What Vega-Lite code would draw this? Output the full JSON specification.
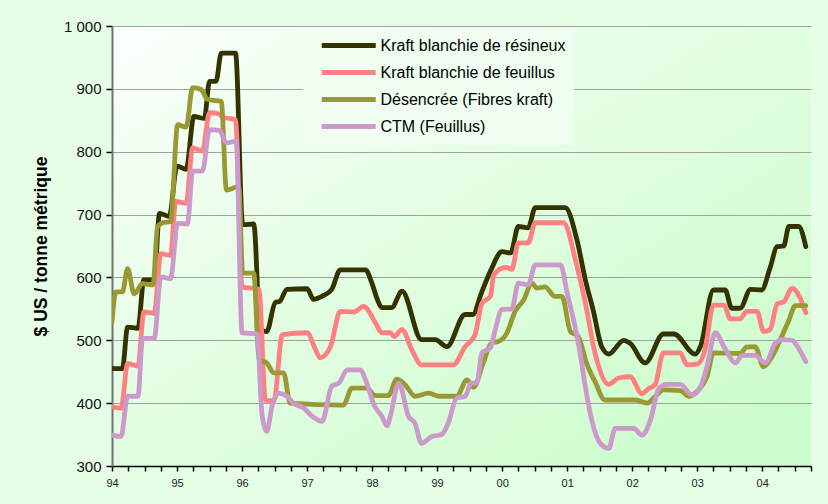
{
  "$schema": "https://vega.github.io/schema/vega-lite/v6.json",
  "width": 699,
  "height": 440,
  "autosize": {"type": "none"},
  "padding": {"left": 112, "top": 26, "right": 17, "bottom": 38},
  "background": "#e6fee6",
  "config": {
    "font": "Liberation Sans",
    "view": {"stroke": null, "fill": {"gradient": "linear", "x1": 0, "y1": 0, "x2": 1, "y2": 1, "stops": [{"offset": 0, "color": "#fbfffb"}, {"offset": 0.5, "color": "#e0fde0"}, {"offset": 1, "color": "#c8fcc8"}]}}
  },
  "datasets": {
    "prices": [
      {"s": "Kraft blanchie de résineux", "t": 1994.00, "v": 455},
      {"s": "Kraft blanchie de résineux", "t": 1994.16, "v": 455},
      {"s": "Kraft blanchie de résineux", "t": 1994.24, "v": 521},
      {"s": "Kraft blanchie de résineux", "t": 1994.40, "v": 519},
      {"s": "Kraft blanchie de résineux", "t": 1994.49, "v": 596},
      {"s": "Kraft blanchie de résineux", "t": 1994.65, "v": 596},
      {"s": "Kraft blanchie de résineux", "t": 1994.73, "v": 702},
      {"s": "Kraft blanchie de résineux", "t": 1994.88, "v": 697},
      {"s": "Kraft blanchie de résineux", "t": 1995.00, "v": 777},
      {"s": "Kraft blanchie de résineux", "t": 1995.14, "v": 772},
      {"s": "Kraft blanchie de résineux", "t": 1995.26, "v": 856},
      {"s": "Kraft blanchie de résineux", "t": 1995.42, "v": 853},
      {"s": "Kraft blanchie de résineux", "t": 1995.50, "v": 912},
      {"s": "Kraft blanchie de résineux", "t": 1995.60, "v": 912},
      {"s": "Kraft blanchie de résineux", "t": 1995.68, "v": 957},
      {"s": "Kraft blanchie de résineux", "t": 1995.90, "v": 957},
      {"s": "Kraft blanchie de résineux", "t": 1996.01, "v": 684},
      {"s": "Kraft blanchie de résineux", "t": 1996.18, "v": 685},
      {"s": "Kraft blanchie de résineux", "t": 1996.28, "v": 517},
      {"s": "Kraft blanchie de résineux", "t": 1996.38, "v": 514},
      {"s": "Kraft blanchie de résineux", "t": 1996.51, "v": 560},
      {"s": "Kraft blanchie de résineux", "t": 1996.58, "v": 562},
      {"s": "Kraft blanchie de résineux", "t": 1996.69, "v": 581},
      {"s": "Kraft blanchie de résineux", "t": 1997.00, "v": 582},
      {"s": "Kraft blanchie de résineux", "t": 1997.10, "v": 565},
      {"s": "Kraft blanchie de résineux", "t": 1997.23, "v": 570},
      {"s": "Kraft blanchie de résineux", "t": 1997.38, "v": 581},
      {"s": "Kraft blanchie de résineux", "t": 1997.51, "v": 612},
      {"s": "Kraft blanchie de résineux", "t": 1997.90, "v": 612},
      {"s": "Kraft blanchie de résineux", "t": 1998.00, "v": 590},
      {"s": "Kraft blanchie de résineux", "t": 1998.08, "v": 565},
      {"s": "Kraft blanchie de résineux", "t": 1998.15, "v": 552},
      {"s": "Kraft blanchie de résineux", "t": 1998.30, "v": 552},
      {"s": "Kraft blanchie de résineux", "t": 1998.46, "v": 578},
      {"s": "Kraft blanchie de résineux", "t": 1998.76, "v": 501},
      {"s": "Kraft blanchie de résineux", "t": 1998.97, "v": 501},
      {"s": "Kraft blanchie de résineux", "t": 1999.15, "v": 490},
      {"s": "Kraft blanchie de résineux", "t": 1999.43, "v": 541},
      {"s": "Kraft blanchie de résineux", "t": 1999.55, "v": 541},
      {"s": "Kraft blanchie de résineux", "t": 1999.68, "v": 575},
      {"s": "Kraft blanchie de résineux", "t": 1999.82, "v": 610},
      {"s": "Kraft blanchie de résineux", "t": 2000.00, "v": 641},
      {"s": "Kraft blanchie de résineux", "t": 2000.13, "v": 639},
      {"s": "Kraft blanchie de résineux", "t": 2000.25, "v": 681},
      {"s": "Kraft blanchie de résineux", "t": 2000.40, "v": 679},
      {"s": "Kraft blanchie de résineux", "t": 2000.51, "v": 711},
      {"s": "Kraft blanchie de résineux", "t": 2000.97, "v": 711},
      {"s": "Kraft blanchie de résineux", "t": 2001.15, "v": 660},
      {"s": "Kraft blanchie de résineux", "t": 2001.28, "v": 596},
      {"s": "Kraft blanchie de résineux", "t": 2001.40, "v": 548},
      {"s": "Kraft blanchie de résineux", "t": 2001.53, "v": 490},
      {"s": "Kraft blanchie de résineux", "t": 2001.64, "v": 478},
      {"s": "Kraft blanchie de résineux", "t": 2001.87, "v": 500},
      {"s": "Kraft blanchie de résineux", "t": 2001.97, "v": 495},
      {"s": "Kraft blanchie de résineux", "t": 2002.20, "v": 464},
      {"s": "Kraft blanchie de résineux", "t": 2002.48, "v": 510},
      {"s": "Kraft blanchie de résineux", "t": 2002.64, "v": 510},
      {"s": "Kraft blanchie de résineux", "t": 2002.97, "v": 478},
      {"s": "Kraft blanchie de résineux", "t": 2003.05, "v": 490},
      {"s": "Kraft blanchie de résineux", "t": 2003.25, "v": 580},
      {"s": "Kraft blanchie de résineux", "t": 2003.43, "v": 580},
      {"s": "Kraft blanchie de résineux", "t": 2003.53, "v": 551},
      {"s": "Kraft blanchie de résineux", "t": 2003.66, "v": 551},
      {"s": "Kraft blanchie de résineux", "t": 2003.82, "v": 581},
      {"s": "Kraft blanchie de résineux", "t": 2003.99, "v": 580},
      {"s": "Kraft blanchie de résineux", "t": 2004.12, "v": 615},
      {"s": "Kraft blanchie de résineux", "t": 2004.23, "v": 649},
      {"s": "Kraft blanchie de résineux", "t": 2004.33, "v": 650},
      {"s": "Kraft blanchie de résineux", "t": 2004.41, "v": 681},
      {"s": "Kraft blanchie de résineux", "t": 2004.56, "v": 681},
      {"s": "Kraft blanchie de résineux", "t": 2004.67, "v": 649},

      {"s": "Kraft blanchie de feuillus", "t": 1994.00, "v": 394},
      {"s": "Kraft blanchie de feuillus", "t": 1994.14, "v": 392},
      {"s": "Kraft blanchie de feuillus", "t": 1994.24, "v": 463},
      {"s": "Kraft blanchie de feuillus", "t": 1994.40, "v": 459},
      {"s": "Kraft blanchie de feuillus", "t": 1994.49, "v": 545},
      {"s": "Kraft blanchie de feuillus", "t": 1994.65, "v": 543},
      {"s": "Kraft blanchie de feuillus", "t": 1994.75, "v": 638},
      {"s": "Kraft blanchie de feuillus", "t": 1994.90, "v": 635},
      {"s": "Kraft blanchie de feuillus", "t": 1994.98, "v": 721},
      {"s": "Kraft blanchie de feuillus", "t": 1995.14, "v": 718},
      {"s": "Kraft blanchie de feuillus", "t": 1995.24, "v": 806},
      {"s": "Kraft blanchie de feuillus", "t": 1995.39, "v": 801},
      {"s": "Kraft blanchie de feuillus", "t": 1995.50, "v": 862},
      {"s": "Kraft blanchie de feuillus", "t": 1995.65, "v": 860},
      {"s": "Kraft blanchie de feuillus", "t": 1995.70, "v": 855},
      {"s": "Kraft blanchie de feuillus", "t": 1995.90, "v": 851},
      {"s": "Kraft blanchie de feuillus", "t": 1996.00, "v": 585},
      {"s": "Kraft blanchie de feuillus", "t": 1996.26, "v": 581},
      {"s": "Kraft blanchie de feuillus", "t": 1996.36, "v": 404},
      {"s": "Kraft blanchie de feuillus", "t": 1996.49, "v": 404},
      {"s": "Kraft blanchie de feuillus", "t": 1996.62, "v": 509},
      {"s": "Kraft blanchie de feuillus", "t": 1997.00, "v": 512},
      {"s": "Kraft blanchie de feuillus", "t": 1997.13, "v": 485},
      {"s": "Kraft blanchie de feuillus", "t": 1997.20, "v": 472},
      {"s": "Kraft blanchie de feuillus", "t": 1997.36, "v": 490},
      {"s": "Kraft blanchie de feuillus", "t": 1997.51, "v": 546},
      {"s": "Kraft blanchie de feuillus", "t": 1997.72, "v": 545},
      {"s": "Kraft blanchie de feuillus", "t": 1997.87, "v": 554},
      {"s": "Kraft blanchie de feuillus", "t": 1998.05, "v": 528},
      {"s": "Kraft blanchie de feuillus", "t": 1998.15, "v": 512},
      {"s": "Kraft blanchie de feuillus", "t": 1998.28, "v": 512},
      {"s": "Kraft blanchie de feuillus", "t": 1998.34, "v": 506},
      {"s": "Kraft blanchie de feuillus", "t": 1998.46, "v": 517},
      {"s": "Kraft blanchie de feuillus", "t": 1998.61, "v": 485},
      {"s": "Kraft blanchie de feuillus", "t": 1998.76, "v": 461},
      {"s": "Kraft blanchie de feuillus", "t": 1999.25, "v": 461},
      {"s": "Kraft blanchie de feuillus", "t": 1999.43, "v": 490},
      {"s": "Kraft blanchie de feuillus", "t": 1999.58, "v": 508},
      {"s": "Kraft blanchie de feuillus", "t": 1999.69, "v": 559},
      {"s": "Kraft blanchie de feuillus", "t": 1999.82, "v": 570},
      {"s": "Kraft blanchie de feuillus", "t": 1999.87, "v": 604},
      {"s": "Kraft blanchie de feuillus", "t": 2000.05, "v": 616},
      {"s": "Kraft blanchie de feuillus", "t": 2000.15, "v": 613},
      {"s": "Kraft blanchie de feuillus", "t": 2000.25, "v": 655},
      {"s": "Kraft blanchie de feuillus", "t": 2000.40, "v": 655},
      {"s": "Kraft blanchie de feuillus", "t": 2000.51, "v": 687},
      {"s": "Kraft blanchie de feuillus", "t": 2000.94, "v": 687},
      {"s": "Kraft blanchie de feuillus", "t": 2001.15, "v": 618},
      {"s": "Kraft blanchie de feuillus", "t": 2001.28, "v": 559},
      {"s": "Kraft blanchie de feuillus", "t": 2001.43, "v": 479},
      {"s": "Kraft blanchie de feuillus", "t": 2001.64, "v": 430},
      {"s": "Kraft blanchie de feuillus", "t": 2001.79, "v": 440},
      {"s": "Kraft blanchie de feuillus", "t": 2001.97, "v": 442},
      {"s": "Kraft blanchie de feuillus", "t": 2002.15, "v": 415},
      {"s": "Kraft blanchie de feuillus", "t": 2002.25, "v": 423},
      {"s": "Kraft blanchie de feuillus", "t": 2002.35, "v": 429},
      {"s": "Kraft blanchie de feuillus", "t": 2002.48, "v": 480},
      {"s": "Kraft blanchie de feuillus", "t": 2002.74, "v": 480},
      {"s": "Kraft blanchie de feuillus", "t": 2002.84, "v": 461},
      {"s": "Kraft blanchie de feuillus", "t": 2003.02, "v": 463},
      {"s": "Kraft blanchie de feuillus", "t": 2003.12, "v": 485},
      {"s": "Kraft blanchie de feuillus", "t": 2003.25, "v": 556},
      {"s": "Kraft blanchie de feuillus", "t": 2003.41, "v": 556},
      {"s": "Kraft blanchie de feuillus", "t": 2003.51, "v": 534},
      {"s": "Kraft blanchie de feuillus", "t": 2003.66, "v": 534},
      {"s": "Kraft blanchie de feuillus", "t": 2003.76, "v": 546},
      {"s": "Kraft blanchie de feuillus", "t": 2003.92, "v": 546},
      {"s": "Kraft blanchie de feuillus", "t": 2004.02, "v": 514},
      {"s": "Kraft blanchie de feuillus", "t": 2004.12, "v": 517},
      {"s": "Kraft blanchie de feuillus", "t": 2004.23, "v": 558},
      {"s": "Kraft blanchie de feuillus", "t": 2004.33, "v": 561},
      {"s": "Kraft blanchie de feuillus", "t": 2004.46, "v": 583},
      {"s": "Kraft blanchie de feuillus", "t": 2004.56, "v": 572},
      {"s": "Kraft blanchie de feuillus", "t": 2004.67, "v": 544},

      {"s": "Désencrée (Fibres kraft)", "t": 1994.00, "v": 529},
      {"s": "Désencrée (Fibres kraft)", "t": 1994.06, "v": 577},
      {"s": "Désencrée (Fibres kraft)", "t": 1994.16, "v": 577},
      {"s": "Désencrée (Fibres kraft)", "t": 1994.24, "v": 614},
      {"s": "Désencrée (Fibres kraft)", "t": 1994.34, "v": 574},
      {"s": "Désencrée (Fibres kraft)", "t": 1994.47, "v": 590},
      {"s": "Désencrée (Fibres kraft)", "t": 1994.63, "v": 588},
      {"s": "Désencrée (Fibres kraft)", "t": 1994.70, "v": 681},
      {"s": "Désencrée (Fibres kraft)", "t": 1994.78, "v": 687},
      {"s": "Désencrée (Fibres kraft)", "t": 1994.90, "v": 689},
      {"s": "Désencrée (Fibres kraft)", "t": 1995.01, "v": 843},
      {"s": "Désencrée (Fibres kraft)", "t": 1995.14, "v": 839},
      {"s": "Désencrée (Fibres kraft)", "t": 1995.24, "v": 902},
      {"s": "Désencrée (Fibres kraft)", "t": 1995.37, "v": 899},
      {"s": "Désencrée (Fibres kraft)", "t": 1995.47, "v": 883},
      {"s": "Désencrée (Fibres kraft)", "t": 1995.68, "v": 880},
      {"s": "Désencrée (Fibres kraft)", "t": 1995.76, "v": 739},
      {"s": "Désencrée (Fibres kraft)", "t": 1995.86, "v": 742},
      {"s": "Désencrée (Fibres kraft)", "t": 1995.95, "v": 745},
      {"s": "Désencrée (Fibres kraft)", "t": 1996.01, "v": 607},
      {"s": "Désencrée (Fibres kraft)", "t": 1996.18, "v": 607},
      {"s": "Désencrée (Fibres kraft)", "t": 1996.26, "v": 469},
      {"s": "Désencrée (Fibres kraft)", "t": 1996.38, "v": 464},
      {"s": "Désencrée (Fibres kraft)", "t": 1996.49, "v": 448},
      {"s": "Désencrée (Fibres kraft)", "t": 1996.64, "v": 448},
      {"s": "Désencrée (Fibres kraft)", "t": 1996.74, "v": 400},
      {"s": "Désencrée (Fibres kraft)", "t": 1997.56, "v": 397},
      {"s": "Désencrée (Fibres kraft)", "t": 1997.69, "v": 424},
      {"s": "Désencrée (Fibres kraft)", "t": 1997.92, "v": 424},
      {"s": "Désencrée (Fibres kraft)", "t": 1998.05, "v": 412},
      {"s": "Désencrée (Fibres kraft)", "t": 1998.25, "v": 412},
      {"s": "Désencrée (Fibres kraft)", "t": 1998.38, "v": 438},
      {"s": "Désencrée (Fibres kraft)", "t": 1998.51, "v": 429},
      {"s": "Désencrée (Fibres kraft)", "t": 1998.66, "v": 411},
      {"s": "Désencrée (Fibres kraft)", "t": 1998.87, "v": 416},
      {"s": "Désencrée (Fibres kraft)", "t": 1999.02, "v": 411},
      {"s": "Désencrée (Fibres kraft)", "t": 1999.30, "v": 411},
      {"s": "Désencrée (Fibres kraft)", "t": 1999.46, "v": 437},
      {"s": "Désencrée (Fibres kraft)", "t": 1999.56, "v": 425},
      {"s": "Désencrée (Fibres kraft)", "t": 1999.71, "v": 464},
      {"s": "Désencrée (Fibres kraft)", "t": 1999.84, "v": 496},
      {"s": "Désencrée (Fibres kraft)", "t": 1999.94, "v": 498},
      {"s": "Désencrée (Fibres kraft)", "t": 2000.07, "v": 511},
      {"s": "Désencrée (Fibres kraft)", "t": 2000.20, "v": 546},
      {"s": "Désencrée (Fibres kraft)", "t": 2000.33, "v": 564},
      {"s": "Désencrée (Fibres kraft)", "t": 2000.46, "v": 591},
      {"s": "Désencrée (Fibres kraft)", "t": 2000.53, "v": 583},
      {"s": "Désencrée (Fibres kraft)", "t": 2000.66, "v": 585},
      {"s": "Désencrée (Fibres kraft)", "t": 2000.81, "v": 570},
      {"s": "Désencrée (Fibres kraft)", "t": 2000.92, "v": 570},
      {"s": "Désencrée (Fibres kraft)", "t": 2001.05, "v": 514},
      {"s": "Désencrée (Fibres kraft)", "t": 2001.17, "v": 506},
      {"s": "Désencrée (Fibres kraft)", "t": 2001.30, "v": 463},
      {"s": "Désencrée (Fibres kraft)", "t": 2001.43, "v": 434},
      {"s": "Désencrée (Fibres kraft)", "t": 2001.58, "v": 405},
      {"s": "Désencrée (Fibres kraft)", "t": 2002.05, "v": 405},
      {"s": "Désencrée (Fibres kraft)", "t": 2002.23, "v": 400},
      {"s": "Désencrée (Fibres kraft)", "t": 2002.35, "v": 410},
      {"s": "Désencrée (Fibres kraft)", "t": 2002.48, "v": 421},
      {"s": "Désencrée (Fibres kraft)", "t": 2002.74, "v": 420},
      {"s": "Désencrée (Fibres kraft)", "t": 2002.87, "v": 411},
      {"s": "Désencrée (Fibres kraft)", "t": 2003.02, "v": 421},
      {"s": "Désencrée (Fibres kraft)", "t": 2003.15, "v": 442},
      {"s": "Désencrée (Fibres kraft)", "t": 2003.25, "v": 480},
      {"s": "Désencrée (Fibres kraft)", "t": 2003.66, "v": 479},
      {"s": "Désencrée (Fibres kraft)", "t": 2003.76, "v": 489},
      {"s": "Désencrée (Fibres kraft)", "t": 2003.89, "v": 490},
      {"s": "Désencrée (Fibres kraft)", "t": 2004.02, "v": 458},
      {"s": "Désencrée (Fibres kraft)", "t": 2004.15, "v": 474},
      {"s": "Désencrée (Fibres kraft)", "t": 2004.30, "v": 506},
      {"s": "Désencrée (Fibres kraft)", "t": 2004.41, "v": 532},
      {"s": "Désencrée (Fibres kraft)", "t": 2004.51, "v": 555},
      {"s": "Désencrée (Fibres kraft)", "t": 2004.67, "v": 555},

      {"s": "CTM (Feuillus)", "t": 1994.00, "v": 349},
      {"s": "CTM (Feuillus)", "t": 1994.14, "v": 347},
      {"s": "CTM (Feuillus)", "t": 1994.24, "v": 411},
      {"s": "CTM (Feuillus)", "t": 1994.40, "v": 411},
      {"s": "CTM (Feuillus)", "t": 1994.47, "v": 503},
      {"s": "CTM (Feuillus)", "t": 1994.65, "v": 503},
      {"s": "CTM (Feuillus)", "t": 1994.75, "v": 601},
      {"s": "CTM (Feuillus)", "t": 1994.90, "v": 598},
      {"s": "CTM (Feuillus)", "t": 1995.01, "v": 686},
      {"s": "CTM (Feuillus)", "t": 1995.16, "v": 685},
      {"s": "CTM (Feuillus)", "t": 1995.24, "v": 769},
      {"s": "CTM (Feuillus)", "t": 1995.39, "v": 769},
      {"s": "CTM (Feuillus)", "t": 1995.50, "v": 835},
      {"s": "CTM (Feuillus)", "t": 1995.65, "v": 834},
      {"s": "CTM (Feuillus)", "t": 1995.76, "v": 814},
      {"s": "CTM (Feuillus)", "t": 1995.91, "v": 817},
      {"s": "CTM (Feuillus)", "t": 1996.00, "v": 512},
      {"s": "CTM (Feuillus)", "t": 1996.23, "v": 510},
      {"s": "CTM (Feuillus)", "t": 1996.31, "v": 379},
      {"s": "CTM (Feuillus)", "t": 1996.38, "v": 355},
      {"s": "CTM (Feuillus)", "t": 1996.46, "v": 395},
      {"s": "CTM (Feuillus)", "t": 1996.56, "v": 416},
      {"s": "CTM (Feuillus)", "t": 1996.69, "v": 411},
      {"s": "CTM (Feuillus)", "t": 1996.79, "v": 400},
      {"s": "CTM (Feuillus)", "t": 1996.95, "v": 392},
      {"s": "CTM (Feuillus)", "t": 1997.08, "v": 379},
      {"s": "CTM (Feuillus)", "t": 1997.23, "v": 371},
      {"s": "CTM (Feuillus)", "t": 1997.38, "v": 427},
      {"s": "CTM (Feuillus)", "t": 1997.49, "v": 432},
      {"s": "CTM (Feuillus)", "t": 1997.62, "v": 453},
      {"s": "CTM (Feuillus)", "t": 1997.82, "v": 453},
      {"s": "CTM (Feuillus)", "t": 1997.90, "v": 437},
      {"s": "CTM (Feuillus)", "t": 1998.03, "v": 397},
      {"s": "CTM (Feuillus)", "t": 1998.15, "v": 379},
      {"s": "CTM (Feuillus)", "t": 1998.23, "v": 364},
      {"s": "CTM (Feuillus)", "t": 1998.28, "v": 379},
      {"s": "CTM (Feuillus)", "t": 1998.41, "v": 432},
      {"s": "CTM (Feuillus)", "t": 1998.56, "v": 379},
      {"s": "CTM (Feuillus)", "t": 1998.66, "v": 368},
      {"s": "CTM (Feuillus)", "t": 1998.76, "v": 336},
      {"s": "CTM (Feuillus)", "t": 1998.92, "v": 347},
      {"s": "CTM (Feuillus)", "t": 1999.07, "v": 350},
      {"s": "CTM (Feuillus)", "t": 1999.17, "v": 368},
      {"s": "CTM (Feuillus)", "t": 1999.30, "v": 408},
      {"s": "CTM (Feuillus)", "t": 1999.43, "v": 411},
      {"s": "CTM (Feuillus)", "t": 1999.53, "v": 432},
      {"s": "CTM (Feuillus)", "t": 1999.61, "v": 432},
      {"s": "CTM (Feuillus)", "t": 1999.69, "v": 480},
      {"s": "CTM (Feuillus)", "t": 1999.82, "v": 488},
      {"s": "CTM (Feuillus)", "t": 1999.89, "v": 515},
      {"s": "CTM (Feuillus)", "t": 2000.00, "v": 549},
      {"s": "CTM (Feuillus)", "t": 2000.15, "v": 550},
      {"s": "CTM (Feuillus)", "t": 2000.25, "v": 591},
      {"s": "CTM (Feuillus)", "t": 2000.40, "v": 588},
      {"s": "CTM (Feuillus)", "t": 2000.51, "v": 620},
      {"s": "CTM (Feuillus)", "t": 2000.90, "v": 620},
      {"s": "CTM (Feuillus)", "t": 2001.00, "v": 575},
      {"s": "CTM (Feuillus)", "t": 2001.10, "v": 532},
      {"s": "CTM (Feuillus)", "t": 2001.20, "v": 479},
      {"s": "CTM (Feuillus)", "t": 2001.28, "v": 426},
      {"s": "CTM (Feuillus)", "t": 2001.38, "v": 372},
      {"s": "CTM (Feuillus)", "t": 2001.51, "v": 336},
      {"s": "CTM (Feuillus)", "t": 2001.64, "v": 328},
      {"s": "CTM (Feuillus)", "t": 2001.74, "v": 360},
      {"s": "CTM (Feuillus)", "t": 2002.02, "v": 360},
      {"s": "CTM (Feuillus)", "t": 2002.15, "v": 349},
      {"s": "CTM (Feuillus)", "t": 2002.28, "v": 373},
      {"s": "CTM (Feuillus)", "t": 2002.41, "v": 423},
      {"s": "CTM (Feuillus)", "t": 2002.53, "v": 430},
      {"s": "CTM (Feuillus)", "t": 2002.74, "v": 430},
      {"s": "CTM (Feuillus)", "t": 2002.92, "v": 413},
      {"s": "CTM (Feuillus)", "t": 2003.05, "v": 426},
      {"s": "CTM (Feuillus)", "t": 2003.15, "v": 458},
      {"s": "CTM (Feuillus)", "t": 2003.28, "v": 512},
      {"s": "CTM (Feuillus)", "t": 2003.41, "v": 490},
      {"s": "CTM (Feuillus)", "t": 2003.59, "v": 464},
      {"s": "CTM (Feuillus)", "t": 2003.69, "v": 476},
      {"s": "CTM (Feuillus)", "t": 2003.89, "v": 476},
      {"s": "CTM (Feuillus)", "t": 2004.05, "v": 464},
      {"s": "CTM (Feuillus)", "t": 2004.20, "v": 495},
      {"s": "CTM (Feuillus)", "t": 2004.30, "v": 501},
      {"s": "CTM (Feuillus)", "t": 2004.46, "v": 500},
      {"s": "CTM (Feuillus)", "t": 2004.56, "v": 487},
      {"s": "CTM (Feuillus)", "t": 2004.67, "v": 466}
    ]
  },
  "data": {"name": "prices"},
  "mark": {"type": "line", "interpolate": "monotone", "strokeWidth": 4.8, "strokeCap": "round", "strokeJoin": "round", "clip": true},
  "encoding": {
    "x": {
      "field": "t", "type": "quantitative",
      "scale": {"domain": [1994, 2004.75], "nice": false, "zero": false},
      "axis": {
        "title": null, "grid": false,
        "values": [1994,1994.25,1994.5,1994.75,1995,1995.25,1995.5,1995.75,1996,1996.25,1996.5,1996.75,1997,1997.25,1997.5,1997.75,1998,1998.25,1998.5,1998.75,1999,1999.25,1999.5,1999.75,2000,2000.25,2000.5,2000.75,2001,2001.25,2001.5,2001.75,2002,2002.25,2002.5,2002.75,2003,2003.25,2003.5,2003.75,2004,2004.25,2004.5,2004.75],
        "labelExpr": "datum.value % 1 === 0 ? slice(toString(datum.value), 2) : ''",
        "labelFlush": false, "labelOverlap": false,
        "labelFontSize": 11, "labelColor": "#222222", "labelPadding": 6,
        "domainColor": "#000000", "domainWidth": 1.5,
        "tickColor": "#000000", "tickWidth": 1.5, "tickSize": 5
      }
    },
    "y": {
      "field": "v", "type": "quantitative",
      "scale": {"domain": [300, 1000], "nice": false, "zero": false},
      "axis": {
        "title": "$ US / tonne métrique",
        "titleFontSize": 17.5, "titleFontWeight": "bold", "titleColor": "#000000", "titlePadding": 13,
        "values": [300, 400, 500, 600, 700, 800, 900, 1000],
        "labelExpr": "datum.value >= 1000 ? '1 000' : datum.label",
        "labelFlush": false, "labelFontSize": 15, "labelColor": "#111111", "labelPadding": 5,
        "grid": true, "gridColor": "#a0a0a0", "gridWidth": 1,
        "domainColor": "#707070", "domainWidth": 2,
        "tickColor": "#000000", "tickWidth": 1.5, "tickSize": 6
      }
    },
    "color": {
      "field": "s", "type": "nominal",
      "scale": {
        "domain": ["Kraft blanchie de résineux", "Kraft blanchie de feuillus", "Désencrée (Fibres kraft)", "CTM (Feuillus)"],
        "range": ["#333300", "#ff8080", "#999933", "#cc99cc"]
      },
      "legend": {
        "title": null, "orient": "none", "legendX": 191, "legendY": 2,
        "symbolType": "M0.185,0H8.185", "symbolSize": 182, "symbolStrokeWidth": 5,
        "labelFontSize": 16, "labelColor": "#000000", "labelOffset": 50.5, "labelLimit": 400,
        "rowPadding": 6, "padding": 8,
        "fillColor": "#effef0", "strokeColor": null
      }
    }
  }
}
